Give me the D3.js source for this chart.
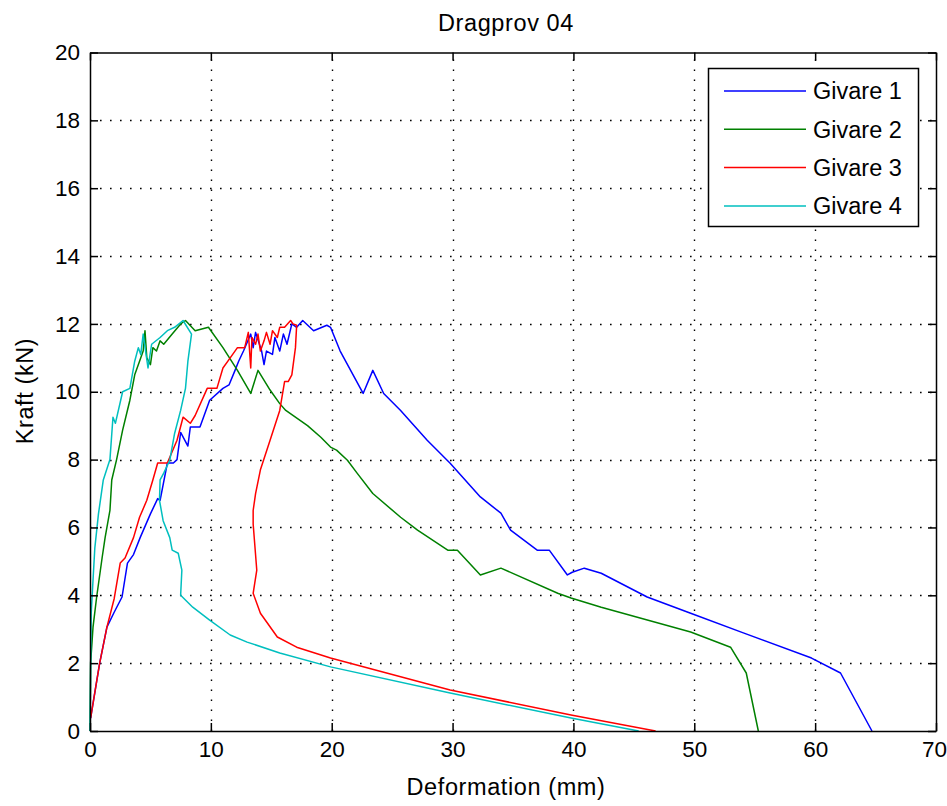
<!DOCTYPE html>
<html>
<head>
<meta charset="utf-8">
<script src="https://cdn.jsdelivr.net/npm/d3@7"></script>
<style>
  html, body { margin: 0; padding: 0; background: #ffffff; }
  svg text { font-family: "Liberation Sans", Arial, sans-serif; fill: #000; }
</style>
</head>
<body>
<svg id="chart" width="947" height="806"></svg>
<script>
// Tensile test 04: force vs. deformation for four gauges
const title = "Dragprov 04";
const xLabel = "Deformation (mm)";
const yLabel = "Kraft (kN)";
const xTicks = [0, 10, 20, 30, 40, 50, 60, 70];
const yTicks = [0, 2, 4, 6, 8, 10, 12, 14, 16, 18, 20];
const seriesNames = ["Givare 1", "Givare 2", "Givare 3", "Givare 4"];
const seriesColors = ["#0000ff", "#008000", "#ff0000", "#00bfbf"];

const g1x = [0.05,0.8,1.4,2.0,2.65,3.1,3.6,4.15,5.0,5.6,5.8,6.4,6.9,7.2,7.5,8.1,8.3,9.1,9.9,11.0,11.5,12.0,12.3,12.7,13.3,13.5,13.7,14.2,14.4,14.6,15.1,15.3,15.7,16.0,16.3,16.7,17.1,17.6,18.5,19.6,19.9,20.7,22.6,23.4,24.3,25.7,27.9,29.8,32.3,34.0,34.8,37.0,38.0,39.5,39.9,40.9,42.3,46.1,49.7,54.0,59.7,62.1,64.7];
const g1y = [0.38,2.0,3.06,3.5,3.95,4.95,5.2,5.7,6.4,6.85,6.8,7.9,7.9,8.0,8.8,8.4,8.96,8.96,9.75,10.1,10.2,10.63,10.9,11.2,11.7,11.3,11.75,11.2,10.8,11.2,11.1,11.6,11.2,11.7,11.4,12.0,11.9,12.1,11.8,11.96,11.9,11.2,9.95,10.63,9.95,9.45,8.57,7.89,6.9,6.42,5.92,5.33,5.33,4.6,4.68,4.8,4.65,3.95,3.47,2.9,2.15,1.71,0];

const g2x = [0,0.05,0.25,0.55,1.0,1.25,1.65,1.8,2.2,2.7,3.3,3.7,4.1,4.4,4.55,4.7,5.0,5.2,5.5,5.8,6.1,6.8,7.5,7.9,8.7,9.8,11.0,12.2,13.3,13.9,14.9,15.7,16.2,18.0,19.1,19.9,20.4,21.3,22.1,23.4,25.7,27.1,29.6,30.4,32.3,34.0,38.7,39.8,42.3,49.7,53.0,54.3,55.3];
const g2y = [0,2.0,3.06,3.95,5.1,5.7,6.5,7.4,8.0,8.87,9.75,10.5,10.9,11.2,11.8,11.0,10.8,11.3,11.2,11.5,11.4,11.7,12.0,12.1,11.8,11.9,11.3,10.63,9.95,10.63,10.05,9.65,9.45,9.0,8.66,8.37,8.28,7.98,7.6,7.0,6.3,5.92,5.33,5.33,4.6,4.8,4.06,3.92,3.65,2.92,2.47,1.71,0];

const g3x = [0.05,0.8,1.4,2.0,2.5,2.9,3.6,4.1,4.7,5.2,5.6,6.4,7.2,7.7,8.3,8.7,9.7,10.5,11.0,11.6,12.2,12.8,13.1,13.3,13.4,13.7,13.9,14.1,14.4,14.6,14.9,15.1,15.5,15.7,16.1,16.6,16.8,17.1,17.0,16.7,16.4,16.1,15.7,14.9,14.1,13.7,13.5,13.5,13.8,13.5,14.1,15.5,17.1,19.9,29.8,39.8,46.8];
const g3y = [0.38,2.0,3.06,3.9,4.95,5.1,5.7,6.3,6.8,7.4,7.9,7.9,8.57,9.25,9.07,9.3,10.1,10.1,10.7,11.0,11.3,11.3,11.75,10.7,11.6,11.4,11.7,11.2,11.5,11.75,11.4,11.8,11.6,11.9,11.9,12.1,12.0,11.96,11.3,10.5,10.3,10.3,9.45,8.57,7.7,7.0,6.5,6.1,4.74,4.06,3.47,2.77,2.47,2.15,1.21,0.47,0];

const g4x = [0,0.1,0.25,0.4,0.7,1.1,1.65,1.9,2.1,2.7,3.3,3.7,4.0,4.2,4.4,4.8,5.1,5.8,6.4,7.0,7.7,8.4,8.1,7.9,7.5,7.0,6.6,6.1,5.8,5.75,6.05,6.6,6.8,7.3,7.6,7.5,8.5,9.9,11.6,13.0,15.7,19.9,29.8,39.8,45.4];
const g4y = [0,3.47,4.45,5.4,6.4,7.4,8.0,9.25,9.07,10.0,10.1,10.9,11.3,11.1,11.7,10.7,11.4,11.6,11.8,11.9,12.1,11.7,10.9,10.1,9.45,8.77,7.98,7.6,7.4,6.8,6.2,5.7,5.33,5.24,4.74,4.0,3.65,3.27,2.83,2.62,2.3,1.89,1.12,0.38,0];

const seriesX = [g1x, g2x, g3x, g4x];
const seriesY = [g1y, g2y, g3y, g4y];

const svg = d3.select("#chart");
const m = { left: 90, right: 936, top: 52.5, bottom: 731 };
const fontSize = 23.5;
const tickFont = 22.5;

const x = d3.scaleLinear().domain([0, 70]).range([m.left, m.right]);
const y = d3.scaleLinear().domain([0, 20]).range([m.bottom, m.top]);

// dotted grid
const grid = svg.append("g").attr("stroke", "#000")
  .attr("stroke-dasharray", "1.6,8.4").attr("stroke-linecap", "butt");
xTicks.slice(1, -1).forEach(t => {
  grid.append("line").attr("x1", Math.round(x(t)) + 0.5).attr("x2", Math.round(x(t)) + 0.5)
    .attr("y1", m.bottom).attr("y2", m.top).attr("stroke-width", 1.4);
});
yTicks.slice(1, -1).forEach(t => {
  grid.append("line").attr("y1", Math.round(y(t)) + 0.5).attr("y2", Math.round(y(t)) + 0.5)
    .attr("x1", m.left).attr("x2", m.right).attr("stroke-width", 1.4);
});

// curves
const line = d3.line().x(d => x(d[0])).y(d => y(d[1]));
seriesX.forEach((xs, i) => {
  const pts = xs.map((v, j) => [v, seriesY[i][j]]);
  svg.append("path").datum(pts)
    .attr("d", line).attr("fill", "none")
    .attr("stroke", seriesColors[i]).attr("stroke-width", 1.5)
    .attr("stroke-linejoin", "round");
});

// axes (box with inward ticks on all four sides)
const tickLen = 8;
const axB = svg.append("g").attr("transform", `translate(0,${m.bottom})`)
  .call(d3.axisBottom(x).tickValues(xTicks).tickSizeInner(-tickLen).tickSizeOuter(0).tickPadding(10));
const axT = svg.append("g").attr("transform", `translate(0,${m.top})`)
  .call(d3.axisTop(x).tickValues(xTicks).tickSizeInner(-tickLen).tickSizeOuter(0).tickFormat(""));
const axL = svg.append("g").attr("transform", `translate(${m.left},0)`)
  .call(d3.axisLeft(y).tickValues(yTicks).tickSizeInner(-tickLen).tickSizeOuter(0).tickPadding(10));
const axR = svg.append("g").attr("transform", `translate(${m.right},0)`)
  .call(d3.axisRight(y).tickValues(yTicks).tickSizeInner(-tickLen).tickSizeOuter(0).tickFormat(""));
[axB, axT, axL, axR].forEach(a => {
  a.selectAll(".domain").attr("stroke", "#000").attr("stroke-width", 1.5);
  a.selectAll(".tick line").attr("stroke", "#000").attr("stroke-width", 1.5);
  a.selectAll("text").attr("font-size", tickFont).attr("font-family", "Liberation Sans, Arial, sans-serif");
});
axB.selectAll("text").attr("dy", "0.71em");
// keep the last x label inside the canvas
axB.selectAll(".tick text").filter(d => d === 70).attr("x", -2);

// title and axis labels
svg.append("text").attr("x", 506).attr("y", 31)
  .attr("text-anchor", "middle").attr("font-size", fontSize)
  .attr("letter-spacing", 0.6).text(title);
svg.append("text").attr("x", 506).attr("y", 795)
  .attr("text-anchor", "middle").attr("font-size", fontSize)
  .attr("letter-spacing", 0.6).text(xLabel);
svg.append("text").attr("transform", `translate(33,391) rotate(-90)`)
  .attr("text-anchor", "middle").attr("font-size", fontSize)
  .attr("letter-spacing", 0.6).text(yLabel);

// legend
const lg = svg.append("g").attr("transform", "translate(708,68)");
lg.append("rect").attr("x", 0.5).attr("y", 0.5).attr("width", 210).attr("height", 158)
  .attr("fill", "#fff").attr("stroke", "#000").attr("stroke-width", 1.5);
seriesNames.forEach((name, i) => {
  const yy = 23 + i * 38.3;
  lg.append("line").attr("x1", 16).attr("x2", 98).attr("y1", yy).attr("y2", yy)
    .attr("stroke", seriesColors[i]).attr("stroke-width", 1.5);
  lg.append("text").attr("x", 105).attr("y", yy).attr("dy", "0.35em")
    .attr("font-size", fontSize).text(name);
});
</script>
</body>
</html>
